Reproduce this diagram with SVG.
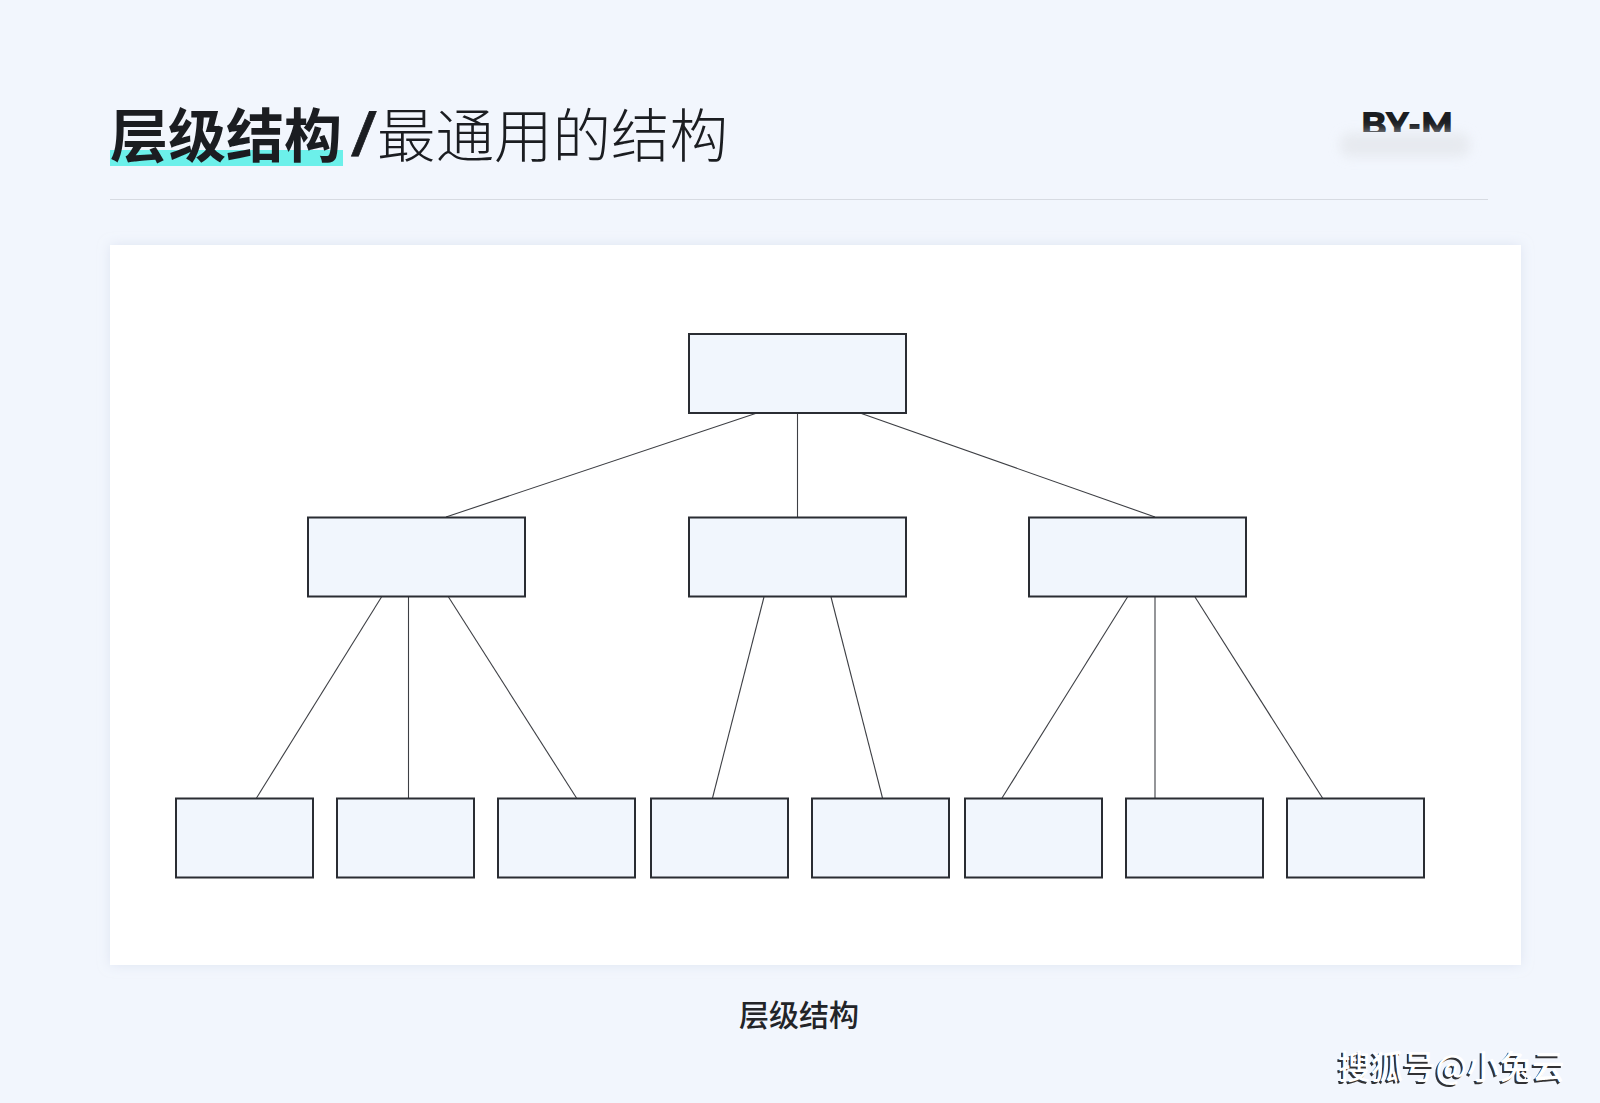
<svg xmlns="http://www.w3.org/2000/svg" width="1600" height="1103" viewBox="0 0 1600 1103">
<defs>
<filter id="panelShadow" x="-5%" y="-5%" width="110%" height="110%">
<feDropShadow dx="0" dy="0" stdDeviation="6" flood-color="#c9d3e6" flood-opacity="0.5"/>
</filter>
<filter id="blur6" x="-30%" y="-100%" width="160%" height="300%">
<feGaussianBlur stdDeviation="6"/>
</filter>
<style>
.node rect { fill: #f1f6fd; stroke: #2a2d33; stroke-width: 2; }
#connectors line { stroke: #3d3f44; stroke-width: 1.1; }
.cjk { font-family: "Noto Sans CJK SC", "Noto Sans", sans-serif; }
</style>
</defs>
<rect x="0" y="0" width="1600" height="1103" fill="#f2f6fd"/>

<!-- header -->
<g id="header">
<rect x="110" y="150" width="233" height="16" fill="#6cf0ea"/>
<text x="110" y="157" class="cjk" font-size="58" font-weight="700" fill="#1b1d21">层级结构</text>
<text transform="translate(351,155) skewX(-12)" x="0" y="0" font-family="'Liberation Sans', sans-serif" font-size="60" font-weight="700" fill="#1b1d21" stroke="#1b1d21" stroke-width="0.8">/</text>
<text x="377" y="157" class="cjk" font-size="58.5" font-weight="300" fill="#1b1d21">最通用的结构</text>
<text x="1361" y="136" font-family="Montserrat, Inter, 'Liberation Sans', sans-serif" font-size="34" font-weight="800" fill="#1b1d21" textLength="92" lengthAdjust="spacingAndGlyphs">BY-M</text>
<rect x="1345" y="132" width="130" height="30" fill="#f2f6fd"/>
<rect x="1340" y="133" width="130" height="24" rx="10" fill="#e4e7ec" filter="url(#blur6)" opacity="0.8"/>
<line x1="110" y1="199.5" x2="1488" y2="199.5" stroke="#d7dbe2" stroke-width="1"/>
</g>

<!-- panel -->
<rect x="110" y="245" width="1411" height="720" fill="#ffffff" filter="url(#panelShadow)"/>

<g id="connectors">
<line x1="757" y1="413" x2="446" y2="517"/>
<line x1="797.5" y1="413" x2="797.5" y2="517"/>
<line x1="860" y1="413" x2="1155" y2="517"/>
<line x1="381.5" y1="597" x2="256.5" y2="798"/>
<line x1="408.5" y1="597" x2="408.5" y2="798"/>
<line x1="448.5" y1="597" x2="576.5" y2="798"/>
<line x1="764" y1="597" x2="712.5" y2="798"/>
<line x1="831" y1="597" x2="882.5" y2="798"/>
<line x1="1127.5" y1="597" x2="1002" y2="798"/>
<line x1="1155" y1="597" x2="1155" y2="798"/>
<line x1="1195" y1="597" x2="1322.5" y2="798"/>
</g>

<g id="root" class="node"><rect x="689" y="334" width="217" height="79"/></g>
<g id="mid-left" class="node"><rect x="308" y="517.5" width="217" height="79"/></g>
<g id="mid-center" class="node"><rect x="689" y="517.5" width="217" height="79"/></g>
<g id="mid-right" class="node"><rect x="1029" y="517.5" width="217" height="79"/></g>

<g id="leaf-1" class="node"><rect x="176" y="798.5" width="137" height="79"/></g>
<g id="leaf-2" class="node"><rect x="337" y="798.5" width="137" height="79"/></g>
<g id="leaf-3" class="node"><rect x="498" y="798.5" width="137" height="79"/></g>
<g id="leaf-4" class="node"><rect x="651" y="798.5" width="137" height="79"/></g>
<g id="leaf-5" class="node"><rect x="812" y="798.5" width="137" height="79"/></g>
<g id="leaf-6" class="node"><rect x="965" y="798.5" width="137" height="79"/></g>
<g id="leaf-7" class="node"><rect x="1126" y="798.5" width="137" height="79"/></g>
<g id="leaf-8" class="node"><rect x="1287" y="798.5" width="137" height="79"/></g>

<text x="799" y="1026" text-anchor="middle" class="cjk" font-size="30" font-weight="500" fill="#222428">层级结构</text>

<g id="watermark">
<text x="1336" y="1081" class="cjk" font-size="32.5" font-weight="500" fill="#111" opacity="0.85">搜狐号@小兔云</text>
<text x="1338" y="1079" class="cjk" font-size="32.5" font-weight="500" fill="#ffffff">搜狐号@小兔云</text>
</g>
</svg>
